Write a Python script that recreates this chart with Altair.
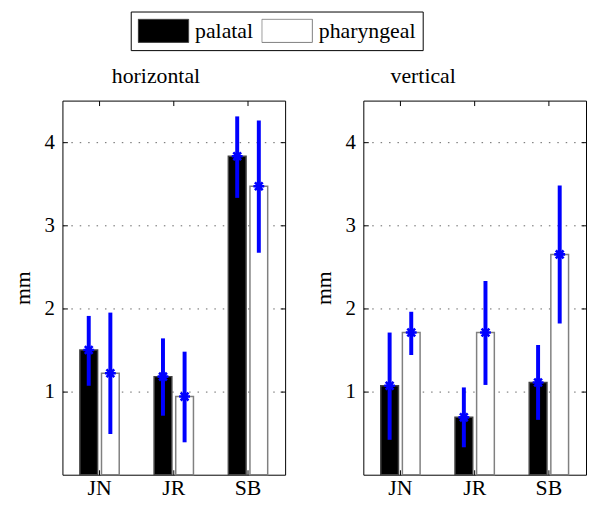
import altair as alt
import pandas as pd

categories = ["JN", "JR", "SB"]
series = ["palatal", "pharyngeal"]
panel_titles = ["horizontal", "vertical"]
y_ticks = [1, 2, 3, 4]

# horizontal panel
h_pal_mean = [1.50, 1.18, 3.83]
h_pal_lo = [1.07, 0.71, 3.33]
h_pal_hi = [1.91, 1.64, 4.31]
h_phr_mean = [1.22, 0.94, 3.47]
h_phr_lo = [0.49, 0.39, 2.67]
h_phr_hi = [1.95, 1.48, 4.26]

# vertical panel
v_pal_mean = [1.07, 0.69, 1.11]
v_pal_lo = [0.42, 0.33, 0.66]
v_pal_hi = [1.71, 1.05, 1.56]
v_phr_mean = [1.71, 1.71, 2.65]
v_phr_lo = [1.44, 1.08, 1.82]
v_phr_hi = [1.96, 2.33, 3.48]

FONT = "Liberation Serif"
W, H = 225, 378
BLUE = "#0000FF"
ASTERISK = "M-1,0L1,0M0,-1L0,1M-0.72,-0.72L0.72,0.72M-0.72,0.72L0.72,-0.72"
RECT = "M-1,-0.46L1,-0.46L1,0.46L-1,0.46Z"


def frame(pm, pl, ph, qm, ql, qh):
    rows = []
    for i, c in enumerate(categories):
        rows.append(dict(cat=c, series=series[0], mean=pm[i], lo=pl[i], hi=ph[i]))
        rows.append(dict(cat=c, series=series[1], mean=qm[i], lo=ql[i], hi=qh[i]))
    return pd.DataFrame(rows)


def panel(df, title, dx):
    xscale = alt.Scale(domain=categories, paddingInner=0.47, paddingOuter=0.235)
    yscale = alt.Scale(domain=[0, 4.5], nice=False, zero=False)
    x_main = alt.X("cat:N", sort=categories, scale=xscale,
                   axis=alt.Axis(title=None, orient="bottom", offset=-5, tickSize=5,
                                 domain=False, labelAngle=0, labelPadding=3,
                                 labelFontSize=22, grid=False))
    y_main = alt.Y("mean:Q", scale=yscale,
                   axis=alt.Axis(title="mm", values=y_ticks, offset=-5, tickSize=5,
                                 domain=False, grid=True, gridDash=[1.5, 7],
                                 gridColor="#666666", gridWidth=1, labelPadding=8,
                                 labelFontSize=21, titleFontSize=22,
                                 titleFontWeight="normal", titlePadding=10))
    xo = alt.XOffset("series:N", sort=series, scale=alt.Scale(paddingInner=0.18))

    bars = alt.Chart(df).mark_bar(strokeWidth=1.5).encode(
        x=x_main, xOffset=xo, y=y_main,
        fill=alt.Fill("series:N", sort=series,
                      scale=alt.Scale(domain=series, range=["black", "white"]),
                      legend=alt.Legend(title=None)),
        stroke=alt.Stroke("series:N", sort=series,
                          scale=alt.Scale(domain=series, range=["#444444", "#808080"]),
                          legend=alt.Legend(title=None)),
    )
    err = alt.Chart(df).mark_rule(color=BLUE, strokeWidth=4).encode(
        x=alt.X("cat:N", sort=categories, axis=None), xOffset=xo,
        y=alt.Y("lo:Q", axis=None), y2="hi:Q")
    pts = alt.Chart(df).mark_point(shape=ASTERISK, size=120, strokeWidth=2.6,
                                   color=BLUE, filled=False, opacity=1).encode(
        x=alt.X("cat:N", sort=categories, axis=None), xOffset=xo,
        y=alt.Y("mean:Q", axis=None))
    frame_axes = alt.Chart(df).mark_point(opacity=0).encode(
        x=alt.X("cat:N", sort=categories,
                axis=alt.Axis(orient="top", title=None, offset=-5, tickSize=5,
                              labels=False, domain=False, grid=False)),
        y=alt.Y("mean:Q",
                axis=alt.Axis(orient="right", title=None, values=y_ticks, offset=-5,
                              tickSize=5, labels=False, domain=False, grid=False)))
    return alt.layer(bars, err, pts, frame_axes).resolve_axis(
        x="independent", y="independent"
    ).properties(
        width=W, height=H,
        title=alt.TitleParams(title, dx=dx, offset=12, anchor="middle"),
    )


left = panel(frame(h_pal_mean, h_pal_lo, h_pal_hi, h_phr_mean, h_phr_lo, h_phr_hi),
             panel_titles[0], -18)
right = panel(frame(v_pal_mean, v_pal_lo, v_pal_hi, v_phr_mean, v_phr_lo, v_phr_hi),
              panel_titles[1], -52)

chart = alt.hconcat(left, right, spacing=26).resolve_scale(
    fill="shared", stroke="shared"
).properties(
    padding={"left": 3, "top": 0, "right": 0, "bottom": 0},
    background="white",
).configure_view(
    stroke="black", strokeWidth=1
).configure_axis(
    labelFont=FONT, titleFont=FONT, labelColor="black", titleColor="black",
    tickColor="black", tickWidth=1
).configure_title(
    font=FONT, fontSize=22, fontWeight="normal", color="black"
).configure_legend(
    orient="none", legendX=69, legendY=-90, direction="horizontal",
    symbolType=RECT, symbolSize=2601, symbolStrokeWidth=1, clipHeight=25,
    labelFont=FONT, labelFontSize=22, labelColor="black", labelOffset=6,
    columnPadding=8, padding=7, strokeColor="black", fillColor="white",
    cornerRadius=0
)

chart.save("out.html", embed_options={"renderer": "svg", "actions": False})
